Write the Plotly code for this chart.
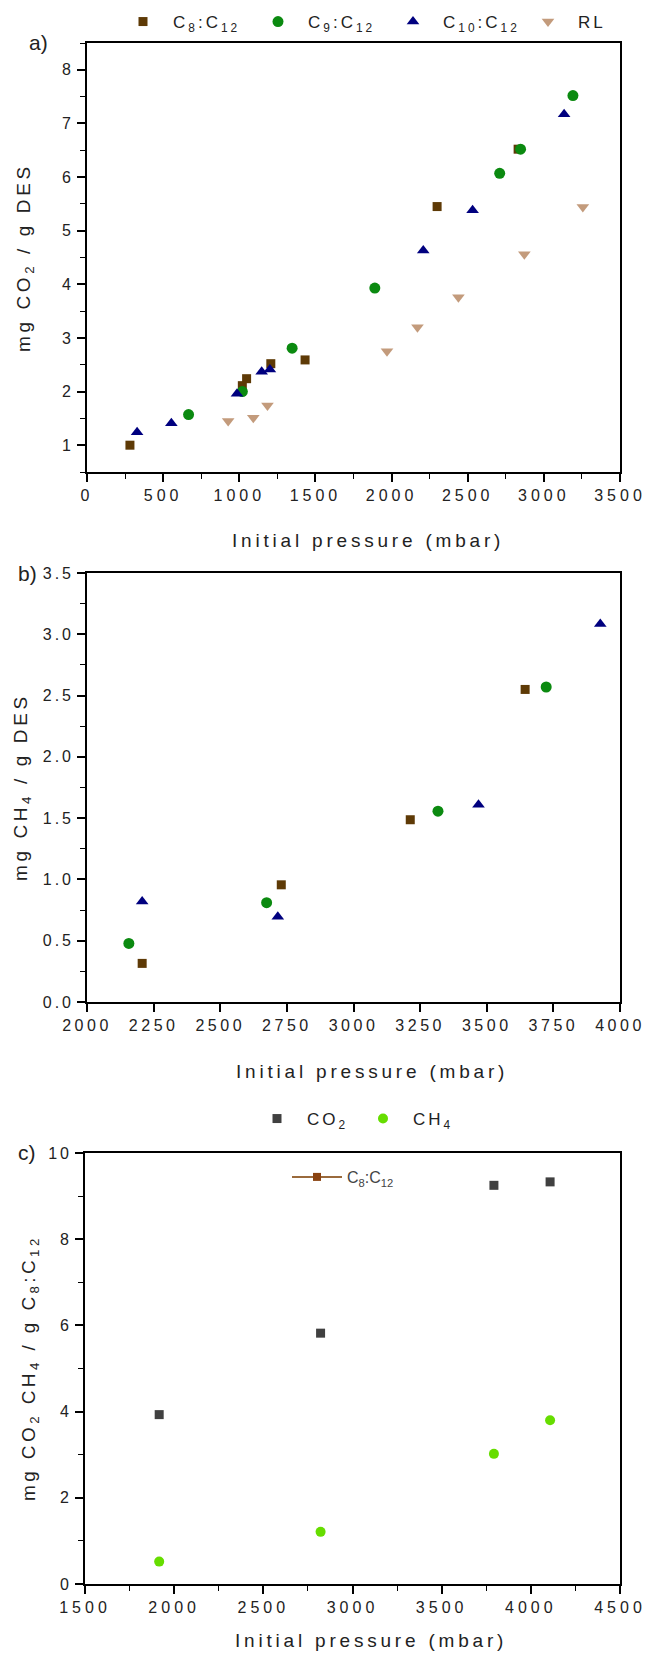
import plotly.graph_objects as go

PAGE_W, PAGE_H = 655, 1661
OFF = 8                      # default body margin of the html page
W, H = PAGE_W - 2 * OFF, PAGE_H - 2 * OFF

# ---------------- data ----------------
# panel a) CO2 uptake
a_c8_x = [282, 1020, 1048, 1207, 1432, 2299, 2831]
a_c8_y = [1.00, 2.11, 2.24, 2.52, 2.59, 5.45, 6.52]
a_c9_x = [667, 1020, 1347, 1890, 2710, 2847, 3191]
a_c9_y = [1.57, 2.00, 2.81, 3.93, 6.07, 6.52, 7.52]
a_c10_x = [329, 554, 985, 1147, 1201, 2208, 2532, 3133]
a_c10_y = [1.24, 1.41, 1.96, 2.37, 2.41, 4.63, 5.38, 7.17]
a_rl_x = [927, 1092, 1185, 1970, 2170, 2439, 2872, 3256]
a_rl_y = [1.45, 1.51, 1.74, 2.75, 3.20, 3.76, 4.56, 5.44]

# panel b) CH4 uptake
b_c8_x = [2207, 2729, 3213, 3644]
b_c8_y = [0.315, 0.956, 1.487, 2.55]
b_c9_x = [2157, 2674, 3317, 3723]
b_c9_y = [0.478, 0.81, 1.557, 2.57]
b_c10_x = [2207, 2716, 3469, 3926]
b_c10_y = [0.82, 0.695, 1.61, 3.083]

# panel c) C8:C12 CO2 vs CH4
c_x = [1916, 2821, 3793, 4108]
c_co2 = [3.93, 5.82, 9.25, 9.33]
c_ch4 = [0.52, 1.21, 3.02, 3.80]

# tick labels
a_xticks = [0, 500, 1000, 1500, 2000, 2500, 3000, 3500]
a_yticks = [1, 2, 3, 4, 5, 6, 7, 8]
b_xticks = [2000, 2250, 2500, 2750, 3000, 3250, 3500, 3750, 4000]
b_yticks = [0.0, 0.5, 1.0, 1.5, 2.0, 2.5, 3.0, 3.5]
b_ytick_text = ["0.0", "0.5", "1.0", "1.5", "2.0", "2.5", "3.0", "3.5"]
c_xticks = [1500, 2000, 2500, 3000, 3500, 4000, 4500]
c_yticks = [0, 2, 4, 6, 8, 10]

series_names = ["C<sub>8</sub>:C<sub>12</sub>", "C<sub>9</sub>:C<sub>12</sub>",
                "C<sub>10</sub>:C<sub>12</sub>", "RL"]
c_names = ["CO<sub>2</sub>", "CH<sub>4</sub>"]

# ---------------- styling ----------------
FONT = "Liberation Sans, Arial, sans-serif"
COL_C8 = "#5e3a06"
COL_C9 = "#0b8a10"
COL_C10 = "#00007f"
COL_RL = "#c39b7c"
COL_CO2 = "#404040"
COL_CH4 = "#66dd00"


def sp(t, s):
    return '<span style="letter-spacing:%gpx">%s</span>' % (s, t)


def ticktext(vals, s=4):
    return [sp(str(v), s) for v in vals]


def fx(p):   # page pixel x -> paper fraction
    return (p - OFF) / W


def fy(p):   # page pixel y -> paper fraction
    return 1 - (p - OFF) / H


fig = go.Figure()

# panel a
fig.add_trace(go.Scatter(x=a_c8_x, y=a_c8_y, mode="markers", name=sp(series_names[0], 3),
                         marker=dict(symbol="square", size=9, color=COL_C8),
                         xaxis="x", yaxis="y", legend="legend"))
fig.add_trace(go.Scatter(x=a_c9_x, y=a_c9_y, mode="markers", name=sp(series_names[1], 3),
                         marker=dict(symbol="circle", size=11, color=COL_C9),
                         xaxis="x", yaxis="y", legend="legend"))
fig.add_trace(go.Scatter(x=a_c10_x, y=a_c10_y, mode="markers", name=sp(series_names[2], 3),
                         marker=dict(symbol="triangle-up", size=11, color=COL_C10),
                         xaxis="x", yaxis="y", legend="legend"))
fig.add_trace(go.Scatter(x=a_rl_x, y=a_rl_y, mode="markers", name=sp(series_names[3], 3),
                         marker=dict(symbol="triangle-down", size=11, color=COL_RL),
                         xaxis="x", yaxis="y", legend="legend"))

# panel b
fig.add_trace(go.Scatter(x=b_c8_x, y=b_c8_y, mode="markers", showlegend=False,
                         marker=dict(symbol="square", size=9, color=COL_C8),
                         xaxis="x2", yaxis="y2"))
fig.add_trace(go.Scatter(x=b_c9_x, y=b_c9_y, mode="markers", showlegend=False,
                         marker=dict(symbol="circle", size=11, color=COL_C9),
                         xaxis="x2", yaxis="y2"))
fig.add_trace(go.Scatter(x=b_c10_x, y=b_c10_y, mode="markers", showlegend=False,
                         marker=dict(symbol="triangle-up", size=11, color=COL_C10),
                         xaxis="x2", yaxis="y2"))

# panel c
fig.add_trace(go.Scatter(x=c_x, y=c_co2, mode="markers", name=sp(c_names[0], 3),
                         marker=dict(symbol="square", size=9, color=COL_CO2),
                         xaxis="x3", yaxis="y3", legend="legend2"))
fig.add_trace(go.Scatter(x=c_x, y=c_ch4, mode="markers", name=sp(c_names[1], 3),
                         marker=dict(symbol="circle", size=10, color=COL_CH4),
                         xaxis="x3", yaxis="y3", legend="legend2"))
# inset legend entry of panel c
fig.add_trace(go.Scatter(x=[None], y=[None], mode="lines+markers", name=series_names[0],
                         line=dict(color="#9a6a3c", width=2),
                         marker=dict(symbol="square", size=8, color="#8a4210"),
                         xaxis="x3", yaxis="y3", legend="legend3"))


def xdom(l, r):
    return [fx(l), fx(r)]


def ydom(t, b):
    return [fy(b), fy(t)]


axis_common = dict(showline=True, linecolor="black", linewidth=1.6, mirror=True,
                   ticks="outside", ticklen=8, tickwidth=1.6, tickcolor="black",
                   showgrid=False, zeroline=False, tickangle=0, automargin=False,
                   tickfont=dict(family=FONT, size=16, color="#222"))


def minor(d, t0=0):
    return dict(ticks="outside", ticklen=5, tickwidth=1.4, tickcolor="black",
                tickmode="linear", dtick=d, tick0=t0, showgrid=False)


fig.update_layout(
    width=W, height=H, margin=dict(l=0, r=0, t=0, b=0, autoexpand=False),
    paper_bgcolor="white", plot_bgcolor="white",
    font=dict(family=FONT, color="#222"),
    xaxis=dict(domain=xdom(87, 620), anchor="y", range=[0, 3500],
               tickmode="array", tickvals=a_xticks, ticktext=ticktext(a_xticks),
               minor=minor(250), **axis_common),
    yaxis=dict(domain=ydom(43, 472), anchor="x", range=[0.5, 8.5],
               tickmode="array", tickvals=a_yticks, ticktext=ticktext(a_yticks, 3),
               minor=minor(0.5, 0.5), **axis_common),
    xaxis2=dict(domain=xdom(87, 620), anchor="y2", range=[2000, 4000],
                tickmode="array", tickvals=b_xticks, ticktext=ticktext(b_xticks, 3.5),
                **axis_common),
    yaxis2=dict(domain=ydom(573, 1002), anchor="x2", range=[0, 3.5],
                tickmode="array", tickvals=b_yticks, ticktext=[sp(t, 3) for t in b_ytick_text],
                minor=minor(0.25, 0), **axis_common),
    xaxis3=dict(domain=xdom(85, 620), anchor="y3", range=[1500, 4500],
                tickmode="array", tickvals=c_xticks, ticktext=ticktext(c_xticks),
                minor=minor(250), **axis_common),
    yaxis3=dict(domain=ydom(1153, 1584), anchor="x3", range=[0, 10],
                tickmode="array", tickvals=c_yticks, ticktext=ticktext(c_yticks, 3),
                minor=minor(1, 0), **axis_common),
    legend=dict(orientation="h", x=fx(113), y=fy(22), xanchor="left", yanchor="middle",
                itemwidth=50, entrywidth=70, bgcolor="rgba(0,0,0,0)",
                font=dict(family=FONT, size=17, color="#222")),
    legend2=dict(orientation="h", x=fx(247), y=fy(1119), xanchor="left", yanchor="middle",
                 itemwidth=50, entrywidth=41, bgcolor="rgba(0,0,0,0)",
                 font=dict(family=FONT, size=17, color="#222")),
    legend3=dict(orientation="h", x=fx(287), y=fy(1177), xanchor="left", yanchor="middle",
                 itemwidth=50, bgcolor="rgba(0,0,0,0)",
                 font=dict(family=FONT, size=16, color="#444")),
    showlegend=True,
)

ann = []
title_font = dict(family=FONT, size=19, color="#222")
xt = sp("Initial pressure (mbar)", 3.8)
for (xc, yc) in [(368, 540), (372, 1071), (371, 1640)]:
    ann.append(dict(text=xt, x=fx(xc), y=fy(yc), xref="paper", yref="paper",
                    showarrow=False, xanchor="center", yanchor="middle", font=title_font))
ytitles = [
    (sp("mg CO<sub>2</sub> / g DES", 3.6), 25, 258),
    (sp("mg CH<sub>4</sub> / g DES", 3.6), 22, 787),
    (sp("mg CO<sub>2</sub> CH<sub>4</sub> / g C<sub>8</sub>:C<sub>12</sub>", 3.4), 30, 1368),
]
for (t, xc, yc) in ytitles:
    ann.append(dict(text=t, x=fx(xc), y=fy(yc), xref="paper", yref="paper",
                    showarrow=False, xanchor="center", yanchor="middle", textangle=-90,
                    font=title_font))
for (t, xc, yc) in [("a)", 38, 42), ("b)", 27, 573), ("c)", 27, 1152)]:
    ann.append(dict(text=t, x=fx(xc), y=fy(yc), xref="paper", yref="paper",
                    showarrow=False, xanchor="center", yanchor="middle",
                    font=dict(family=FONT, size=21, color="#222")))
fig.update_layout(annotations=ann)

fig.write_html("out.html")
